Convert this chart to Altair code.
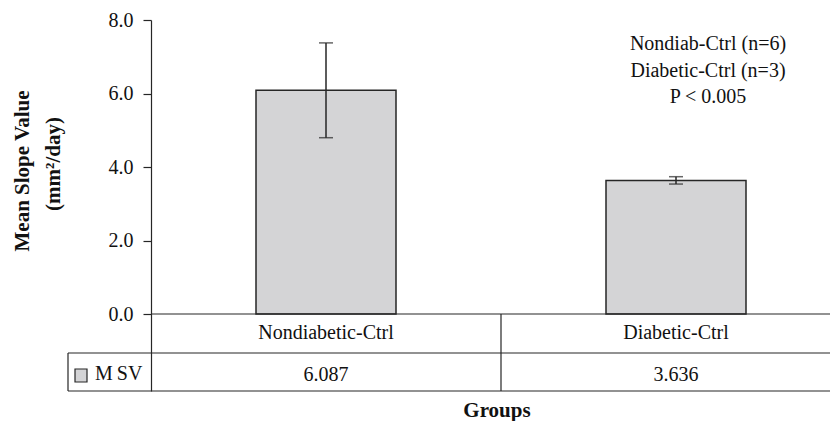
import altair as alt
import pandas as pd

# ---- data ----
groups = ["Nondiabetic-Ctrl", "Diabetic-Ctrl"]
msv = [6.087, 3.636]
err = [1.29, 0.10]
y_ticks = [0.0, 2.0, 4.0, 6.0, 8.0]
series_name = "MSV"
notes = ["Nondiab-Ctrl (n=6)", "Diabetic-Ctrl (n=3)", "P < 0.005"]
y_title = ["Mean Slope Value", "(mm\u00b2/day)"]
x_title = "Groups"

# ---- layout / style ----
W, H = 679, 371
STEP = 350.0
XMAX = W / STEP
YMIN, YMAX = -2.0952, 8.0
SERIF = "Liberation Serif"
GREY = "#d4d4d6"
DARK = "#262626"
INK = "#111111"

df = pd.DataFrame({"group": groups, "msv": msv, "err": err})
df["idx"] = range(len(df))
df["c"] = df["idx"] + 0.5
df["x0"] = df["c"] - 0.2
df["x1"] = df["c"] + 0.2
df["lo"] = df["msv"] - df["err"]
df["hi"] = df["msv"] + df["err"]
df["base"] = 0.0
df["label"] = df["msv"].map(lambda v: f"{v:.3f}")

xs = alt.Scale(domain=[0, XMAX], nice=False, zero=False)
ys = alt.Scale(domain=[YMIN, YMAX], nice=False, zero=False)
y_axis = alt.Axis(
    values=y_ticks, format=".1f", tickSize=8, grid=False, title=None,
    labelFont=SERIF, labelFontSize=20, labelColor=INK, labelPadding=10,
    domainColor=DARK, domainWidth=1.2, tickColor=DARK, tickWidth=1.2)

base = alt.Chart(df)
one = alt.Chart(pd.DataFrame({"k": [0]}))

bars = base.mark_bar(fill=GREY, stroke=DARK, strokeWidth=1.5).encode(
    x=alt.X("x0:Q", scale=xs, axis=None),
    x2="x1:Q",
    y=alt.Y("msv:Q", scale=ys, axis=y_axis),
    y2="base:Q",
)

errbars = base.mark_errorbar(ticks=True, size=14, thickness=1.5, color=DARK).encode(
    x=alt.X("c:Q", scale=xs, axis=None),
    y=alt.Y("lo:Q", scale=ys, axis=y_axis),
    y2="hi:Q",
)

# table lines
zero_line = one.mark_rule(color=DARK, strokeWidth=1.2).encode(
    x=alt.value(0), x2=alt.value(W), y=alt.value(294))
row_line = one.mark_rule(color=DARK, strokeWidth=1.2).encode(
    x=alt.value(-83), x2=alt.value(W), y=alt.value(333))
bottom_line = one.mark_rule(color=DARK, strokeWidth=1.2).encode(
    x=alt.value(-83), x2=alt.value(W), y=alt.value(H))
left_line = one.mark_rule(color=DARK, strokeWidth=1.2).encode(
    x=alt.value(-83), y=alt.value(333), y2=alt.value(H))
col_line = base.transform_filter("datum.idx > 0").mark_rule(color=DARK, strokeWidth=1.2).encode(
    x=alt.X("idx:Q", scale=xs, axis=None), y=alt.value(294), y2=alt.value(H))

cat_text = base.mark_text(font=SERIF, fontSize=20, color=INK, baseline="alphabetic").encode(
    x=alt.X("c:Q", scale=xs, axis=None), y=alt.value(319), text="group:N")
val_text = base.mark_text(font=SERIF, fontSize=20, color=INK, baseline="alphabetic").encode(
    x=alt.X("c:Q", scale=xs, axis=None), y=alt.value(360.5), text="label:N")

legend_sq = one.mark_rect(fill=GREY, stroke=DARK, strokeWidth=1.2).encode(
    x=alt.value(-76), x2=alt.value(-64), y=alt.value(349), y2=alt.value(362))
series_text = one.mark_text(font=SERIF, fontSize=20, color=INK, align="left",
                            baseline="alphabetic").encode(
    x=alt.value(-56), y=alt.value(360),
    text=alt.value(series_name[0] + "\u2009" + series_name[1:]))

note_text = one.mark_text(font=SERIF, fontSize=20, color=INK, align="center",
                          baseline="alphabetic", lineHeight=26.5).encode(
    x=alt.value(557), y=alt.value(30), text=alt.value(notes))

yt1 = one.mark_text(font=SERIF, fontSize=21, fontWeight="bold", color=INK, angle=270,
                    align="center", baseline="alphabetic").encode(
    x=alt.value(-122), y=alt.value(151), text=alt.value(y_title[0]))
yt2 = one.mark_text(font=SERIF, fontSize=21, fontWeight="bold", color=INK, angle=270,
                    align="center", baseline="alphabetic").encode(
    x=alt.value(-91), y=alt.value(144), text=alt.value(y_title[1]))
xt = one.mark_text(font=SERIF, fontSize=21, fontWeight="bold", color=INK,
                   align="center", baseline="alphabetic").encode(
    x=alt.value(346), y=alt.value(H + 26), text=alt.value(x_title))

chart = alt.layer(
    bars, errbars, zero_line, row_line, bottom_line, left_line, col_line,
    cat_text, val_text, legend_sq, series_text, note_text, yt1, yt2, xt,
).properties(
    width=W, height=H,
    autosize=alt.AutoSizeParams(type="none"),
    padding={"left": 143, "top": 12, "right": 0, "bottom": 30},
    background="white",
).configure_view(stroke=None)

chart.save("out.html", embed_options={"renderer": "svg", "actions": False})
